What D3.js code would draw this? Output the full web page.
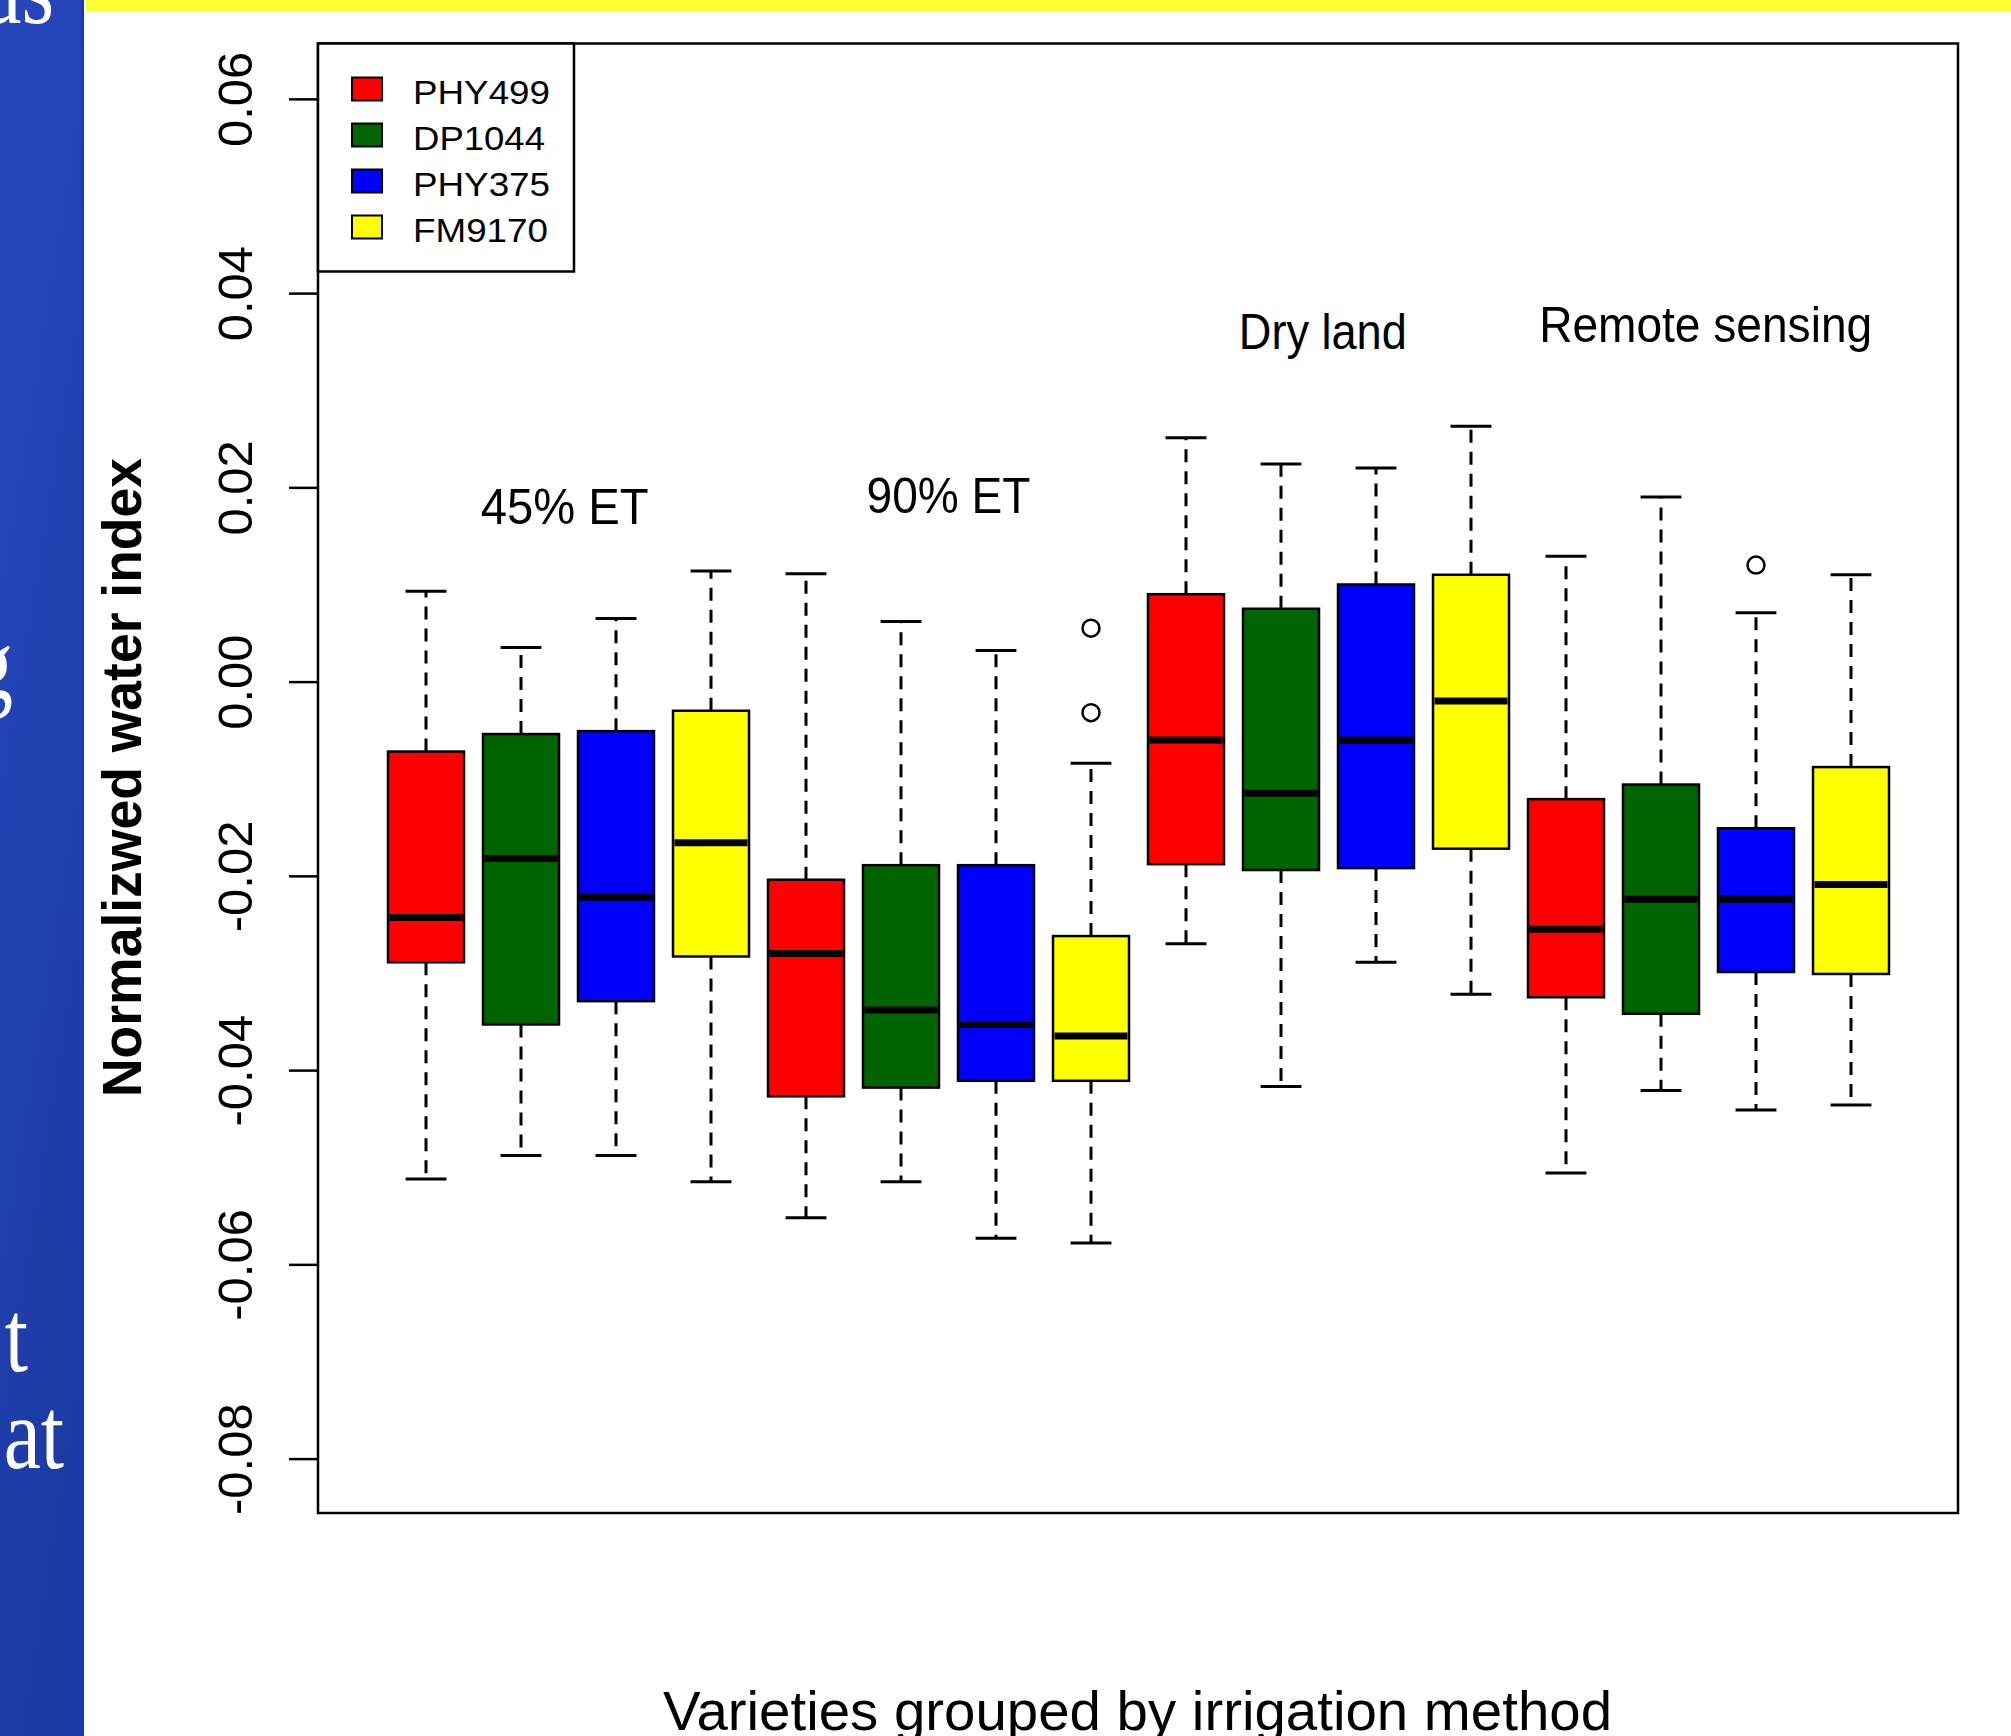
<!DOCTYPE html>
<html>
<head>
<meta charset="utf-8">
<script src="https://cdn.jsdelivr.net/npm/d3@7"></script>
<style>
  html, body { margin: 0; padding: 0; background: #ffffff; overflow: hidden; }
  svg { display: block; }
</style>
</head>
<body>
<svg id="chart" width="2011" height="1736"></svg>
<script>
// Cotton varieties and their fill colours
const varieties = ["PHY499", "DP1044", "PHY375", "FM9170"];
const varietyColors = ["#ff0000", "#006400", "#0000ff", "#ffff00"];

// Irrigation methods (groups of four boxes)
const methods = ["45% ET", "90% ET", "Dry land", "Remote sensing"];

// Five-number summaries per variety: [lower whisker, Q1, median, Q3, upper whisker]
const et45 = [
  [-0.0512, -0.0289, -0.0243, -0.0072, 0.0093],
  [-0.0488, -0.0353, -0.0182, -0.0054, 0.0035],
  [-0.0488, -0.0329, -0.0222, -0.0051, 0.0065],
  [-0.0515, -0.0283, -0.0166, -0.0030, 0.0114]
];
const et90 = [
  [-0.0552, -0.0427, -0.0280, -0.0204, 0.0111],
  [-0.0515, -0.0418, -0.0338, -0.0189, 0.0062],
  [-0.0573, -0.0411, -0.0353, -0.0189, 0.0032],
  [-0.0578, -0.0411, -0.0365, -0.0262, -0.0084]
];
const dryLand = [
  [-0.0270, -0.0188, -0.0060, 0.0090, 0.0251],
  [-0.0417, -0.0194, -0.0115, 0.0075, 0.0224],
  [-0.0289, -0.0192, -0.0060, 0.0100, 0.0220],
  [-0.0322, -0.0172, -0.0020, 0.0110, 0.0263]
];
const remoteSensing = [
  [-0.0506, -0.0325, -0.0255, -0.0121, 0.0129],
  [-0.0421, -0.0342, -0.0224, -0.0106, 0.0190],
  [-0.0441, -0.0299, -0.0224, -0.0151, 0.0071],
  [-0.0436, -0.0301, -0.0209, -0.0088, 0.0110]
];

// Points beyond the whiskers: [method index, variety index, value]
const outliers = [
  [1, 3, 0.0055],
  [1, 3, -0.0032],
  [3, 2, 0.0120]
];

// Group labels in data coordinates: [box position, value]
const methodLabelPos = [[2.46, 0.0180], [6.50, 0.0192], [10.44, 0.0360], [14.47, 0.0368]];

const yTicks = [-0.08, -0.06, -0.04, -0.02, 0.00, 0.02, 0.04, 0.06];

const yTitle = "Normalizwed water index";
const xTitle = "Varieties grouped by irrigation method";

// Slide text fragments on the blue side panel
const sideText = [
  { t: "as", x: 54, y: 23 },
  { t: "g",  x: 13, y: 698 },
  { t: "t",  x: 28, y: 1371 },
  { t: "at", x: 64, y: 1468 }
];

const groups = [et45, et90, dryLand, remoteSensing];

// ---------------------------------------------------------------
const svg = d3.select("#chart");
const W = 2011, H = 1736;
const frame = { left: 318, right: 1958, top: 43.5, bottom: 1513 };
const SANS = "'Liberation Sans', Arial, Helvetica, sans-serif";

// Slide background: side panel and top rule
const defs = svg.append("defs");
const grad = defs.append("linearGradient").attr("id", "panelGrad")
  .attr("x1", 0).attr("y1", 0).attr("x2", 0.3).attr("y2", 1);
grad.append("stop").attr("offset", 0).attr("stop-color", "#2748bb");
grad.append("stop").attr("offset", 0.5).attr("stop-color", "#2242b2");
grad.append("stop").attr("offset", 1).attr("stop-color", "#1c3aa3");
defs.append("clipPath").attr("id", "panelClip")
  .append("rect").attr("x", 0).attr("y", 0).attr("width", 84).attr("height", H);

svg.append("rect").attr("x", 0).attr("y", 0).attr("width", W).attr("height", H).attr("fill", "#ffffff");
svg.append("rect").attr("x", 0).attr("y", 0).attr("width", 84).attr("height", H).attr("fill", "url(#panelGrad)");
svg.append("rect").attr("x", 81).attr("y", 0).attr("width", 3).attr("height", H).attr("fill", "#1437d4");
svg.append("rect").attr("x", 86).attr("y", 0).attr("width", W - 86).attr("height", 12).attr("fill", "#ffff33");

const side = svg.append("g").attr("clip-path", "url(#panelClip)");
side.selectAll("text").data(sideText).join("text")
  .attr("transform", d => `translate(${d.x},${d.y}) scale(0.82,1)`)
  .attr("text-anchor", "end")
  .attr("font-family", "'Liberation Serif', 'Times New Roman', serif")
  .attr("font-size", 102)
  .attr("fill", "#ffffff")
  .text(d => d.t);

// Scales
const x = d3.scaleLinear().domain([1, 16]).range([426, 1851]);
const y = d3.scaleLinear().domain([-0.0856, 0.0657]).range([frame.bottom, frame.top]);
const step = x(2) - x(1);
const boxW = step * 0.8;
const stapleW = step * 0.43;

// Flatten groups into 16 boxes
const boxes = [];
groups.forEach((g, gi) => g.forEach((s, vi) => {
  boxes.push({ pos: gi * 4 + vi + 1, color: varietyColors[vi], s });
}));

const plot = svg.append("g");

// Whiskers (dashed, from box edge outward)
plot.selectAll("line.whisker").data(boxes.flatMap(b => [
  { pos: b.pos, from: b.s[1], to: b.s[0] },
  { pos: b.pos, from: b.s[3], to: b.s[4] }
])).join("line")
  .attr("class", "whisker")
  .attr("x1", d => x(d.pos)).attr("x2", d => x(d.pos))
  .attr("y1", d => y(d.from)).attr("y2", d => y(d.to))
  .attr("stroke", "#000").attr("stroke-width", 3)
  .attr("stroke-dasharray", "13,9");

// Staples
plot.selectAll("line.staple").data(boxes.flatMap(b => [
  { pos: b.pos, v: b.s[0] }, { pos: b.pos, v: b.s[4] }
])).join("line")
  .attr("class", "staple")
  .attr("x1", d => x(d.pos) - stapleW / 2).attr("x2", d => x(d.pos) + stapleW / 2)
  .attr("y1", d => y(d.v)).attr("y2", d => y(d.v))
  .attr("stroke", "#000").attr("stroke-width", 3);

// Boxes
plot.selectAll("rect.box").data(boxes).join("rect")
  .attr("class", "box")
  .attr("x", d => x(d.pos) - boxW / 2)
  .attr("width", boxW)
  .attr("y", d => y(d.s[3]))
  .attr("height", d => y(d.s[1]) - y(d.s[3]))
  .attr("fill", d => d.color)
  .attr("stroke", "#000").attr("stroke-width", 2.5);

// Medians
plot.selectAll("line.median").data(boxes).join("line")
  .attr("class", "median")
  .attr("x1", d => x(d.pos) - boxW / 2 + 1.5).attr("x2", d => x(d.pos) + boxW / 2 - 1.5)
  .attr("y1", d => y(d.s[2])).attr("y2", d => y(d.s[2]))
  .attr("stroke", "#000").attr("stroke-width", 7);

// Outliers
plot.selectAll("circle.out").data(outliers).join("circle")
  .attr("class", "out")
  .attr("cx", d => x(d[0] * 4 + d[1] + 1))
  .attr("cy", d => y(d[2]))
  .attr("r", 8.5)
  .attr("fill", "none").attr("stroke", "#000").attr("stroke-width", 2.5);

// Method labels
plot.selectAll("text.method").data(methods).join("text")
  .attr("class", "method")
  .attr("x", (d, i) => x(methodLabelPos[i][0]))
  .attr("y", (d, i) => y(methodLabelPos[i][1]))
  .attr("dy", "0.35em")
  .attr("text-anchor", "middle")
  .attr("font-family", SANS)
  .attr("font-size", 50)
  .attr("textLength", (d, i) => [168, 164, 168, 333][i])
  .attr("lengthAdjust", "spacingAndGlyphs")
  .attr("fill", "#000")
  .text(d => d);

// Y axis
const yAxis = d3.axisLeft(y).tickValues(yTicks).tickSize(29).tickFormat(v => v.toFixed(2));
const gy = svg.append("g").attr("transform", `translate(${frame.left},0)`).call(yAxis);
gy.select(".domain").remove();
gy.selectAll(".tick line").attr("stroke", "#000").attr("stroke-width", 2.5);
gy.selectAll(".tick text")
  .attr("transform", "rotate(-90)")
  .attr("x", 0).attr("y", -66).attr("dy", 0)
  .attr("text-anchor", "middle")
  .attr("font-family", SANS)
  .attr("font-size", 49)
  .attr("fill", "#000");

// Plot frame
svg.append("rect")
  .attr("x", frame.left).attr("y", frame.top)
  .attr("width", frame.right - frame.left).attr("height", frame.bottom - frame.top)
  .attr("fill", "none").attr("stroke", "#000").attr("stroke-width", 2.5);

// Legend
const leg = svg.append("g").attr("transform", `translate(${frame.left},${frame.top})`);
leg.append("rect").attr("x", 0).attr("y", 0).attr("width", 256).attr("height", 228)
  .attr("fill", "#fff").attr("stroke", "#000").attr("stroke-width", 2.5);
const items = leg.selectAll("g.item").data(varieties).join("g")
  .attr("class", "item")
  .attr("transform", (d, i) => `translate(0,${45.5 + i * 46})`);
items.append("rect")
  .attr("x", 34).attr("y", -11.5).attr("width", 30).attr("height", 23)
  .attr("fill", (d, i) => varietyColors[i])
  .attr("stroke", "#000").attr("stroke-width", 2);
items.append("text")
  .attr("x", 95).attr("y", 15)
  .attr("font-family", SANS)
  .attr("font-size", 34)
  .attr("textLength", (d, i) => [137, 132, 137, 135][i])
  .attr("lengthAdjust", "spacingAndGlyphs")
  .attr("fill", "#000")
  .text(d => d);

// Axis titles
svg.append("text")
  .attr("transform", `translate(141,${(458 + 1097) / 2}) rotate(-90)`)
  .attr("text-anchor", "middle")
  .attr("font-family", SANS)
  .attr("font-weight", "bold")
  .attr("font-size", 56)
  .attr("textLength", 639)
  .attr("lengthAdjust", "spacingAndGlyphs")
  .attr("fill", "#000")
  .text(yTitle);

svg.append("text")
  .attr("x", (663 + 1612) / 2).attr("y", 1730)
  .attr("text-anchor", "middle")
  .attr("font-family", SANS)
  .attr("font-size", 56)
  .attr("textLength", 949)
  .attr("lengthAdjust", "spacingAndGlyphs")
  .attr("fill", "#000")
  .text(xTitle);
</script>
</body>
</html>
